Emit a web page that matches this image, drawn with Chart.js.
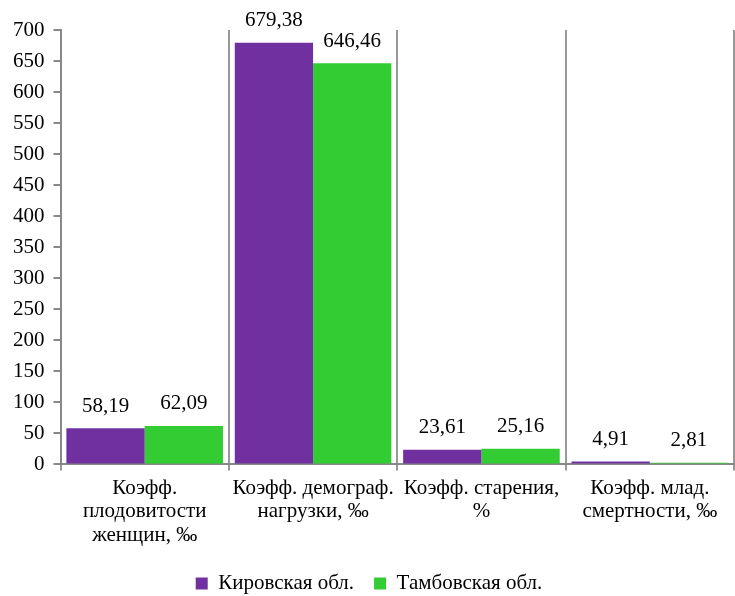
<!DOCTYPE html>
<html>
<head>
<meta charset="utf-8">
<script src="https://cdn.jsdelivr.net/npm/chart.js@4"></script>
<style>
    html, body { margin: 0; padding: 0; background: #fff; }
</style>
</head>
<body>
<canvas id="chart" width="735" height="596"></canvas>
<script>
const categories = [
    ['Коэфф.', 'плодовитости', 'женщин, ‰'],
    ['Коэфф. демограф.', 'нагрузки, ‰'],
    ['Коэфф. старения,', '%'],
    ['Коэфф. млад.', 'смертности, ‰']
];
const kirovValues = [58.19, 679.38, 23.61, 4.91];
const tambovValues = [62.09, 646.46, 25.16, 2.81];
const seriesNames = ['Кировская обл.', 'Тамбовская обл.'];
const yMin = 0, yMax = 700, yStep = 50;

const FONT = "'Liberation Serif', 'Times New Roman', serif";
const FONT_SIZE = 21;

// touch the font once so the canvas can use it
const scratch = document.createElement('canvas').getContext('2d');
scratch.font = FONT_SIZE + 'px ' + FONT;
scratch.fillText('Коэфф. 0123456789 ‰', 0, 20);

// value labels above the bars, comma as decimal separator
const valueLabels = {
    id: 'valueLabels',
    afterDatasetsDraw(chart) {
        const ctx = chart.ctx;
        ctx.save();
        ctx.font = FONT_SIZE + 'px ' + FONT;
        ctx.fillStyle = '#000';
        ctx.textAlign = 'center';
        ctx.textBaseline = 'middle';
        chart.data.datasets.forEach((ds, i) => {
            chart.getDatasetMeta(i).data.forEach((bar, j) => {
                const text = ds.data[j].toFixed(2).replace('.', ',');
                let y = bar.y - 22;
                if (y < 14) y = 14;
                ctx.fillText(text, bar.x, y);
            });
        });
        ctx.restore();
    }
};

let chart = null;

function buildChart() {
    if (chart) chart.destroy();
    chart = new Chart(document.getElementById('chart').getContext('2d'), {
        type: 'bar',
        data: {
            labels: categories,
            datasets: [{
                label: seriesNames[0],
                data: kirovValues,
                backgroundColor: '#7030A0',
                categoryPercentage: 0.93,
                barPercentage: 1
            }, {
                label: seriesNames[1],
                data: tambovValues,
                backgroundColor: '#33CC33',
                categoryPercentage: 0.93,
                barPercentage: 1
            }]
        },
        options: {
            responsive: false,
            animation: false,
            layout: { padding: { top: 30, right: 1, left: 4, bottom: -8 } },
            plugins: {
                legend: {
                    position: 'bottom',
                    labels: {
                        font: { family: FONT, size: FONT_SIZE },
                        color: '#000',
                        boxWidth: 12,
                        boxHeight: 12,
                        padding: 20
                    }
                },
                tooltip: { enabled: false }
            },
            scales: {
                y: {
                    min: yMin,
                    max: yMax,
                    ticks: {
                        stepSize: yStep,
                        color: '#000',
                        font: { family: FONT, size: FONT_SIZE },
                        padding: 9
                    },
                    grid: {
                        drawOnChartArea: false,
                        drawTicks: true,
                        tickLength: 7,
                        color: '#888',
                        lineWidth: 2
                    },
                    border: { color: '#888', width: 2 }
                },
                x: {
                    ticks: {
                        color: '#000',
                        font: { family: FONT, size: FONT_SIZE, lineHeight: 1.12 },
                        maxRotation: 0,
                        padding: 6
                    },
                    grid: {
                        offset: true,
                        color: '#999',
                        lineWidth: 2,
                        tickLength: 6
                    },
                    border: { color: '#888', width: 2 }
                }
            }
        },
        plugins: [valueLabels]
    });
}

buildChart();
// redraw once the serif face is really in use
setTimeout(buildChart, 150);
setTimeout(buildChart, 600);
</script>
</body>
</html>
